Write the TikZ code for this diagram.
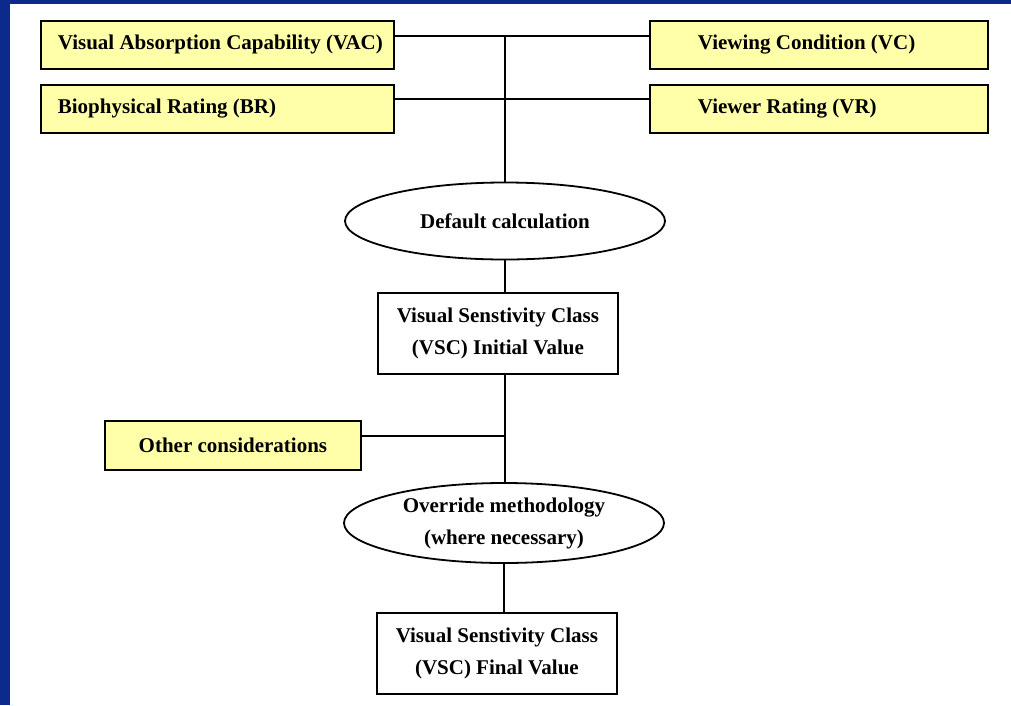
\documentclass[tikz,border=0pt]{standalone}
\usepackage{fontspec}
\setmainfont{Liberation Serif}
\usetikzlibrary{shapes.geometric, calc}
\definecolor{slideblue}{RGB}{12,42,140}
\definecolor{boxyellow}{RGB}{255,255,170}

\begin{document}
\begin{tikzpicture}[x=1pt, y=-1pt,
  font=\fontsize{21}{32}\selectfont\bfseries,
  ybox/.style={draw, line width=1.8pt, fill=boxyellow, anchor=north west, inner sep=0pt, minimum height=48pt},
  wbox/.style={draw, line width=1.8pt, fill=white, anchor=north west, align=center, inner sep=0pt, minimum width=240pt, minimum height=81pt},
  oval/.style={draw, line width=1.8pt, fill=white, ellipse, inner sep=0pt, minimum width=320pt, align=center},
  link/.style={line width=1.8pt}]
  \useasboundingbox (0,0) rectangle (1011,705);
  % Slide background
  \fill[white] (0,0) rectangle (1011,705);
  \fill[slideblue] (0,0) rectangle (10,705);
  \fill[slideblue] (0,0) rectangle (1011,4);
  % Input boxes
  \node[ybox, minimum width=353pt] (vac) at (40,20) {\makebox[319pt][l]{Visual Absorption Capability (VAC)}};
  \node[ybox, minimum width=353pt] (br) at (40,84) {\makebox[319pt][l]{Biophysical Rating (BR)}};
  \node[ybox, minimum width=338pt] (vc) at (649,20) {\makebox[242pt][l]{Viewing Condition (VC)}};
  \node[ybox, minimum width=338pt] (vr) at (649,84) {\makebox[242pt][l]{Viewer Rating (VR)}};
  % Main chain
  \node[oval, minimum height=77pt] (dc) at (505,221) {Default calculation};
  \node[wbox] (init) at (377,292) {Visual Senstivity Class\\(VSC) Initial Value};
  \node[ybox, minimum width=256pt, minimum height=49pt, align=center] (oc) at (104,420) {Other considerations};
  \node[oval, minimum height=80pt] (ov) at (504,523) {Override methodology\\(where necessary)};
  \node[wbox] (fin) at (376,612) {Visual Senstivity Class\\(VSC) Final Value};
  % Junctions on the trunk
  \coordinate (j1) at (505,36);
  \coordinate (j2) at (505,99);
  \coordinate (j3) at (505,436);
  % Connectors
  \draw[link] (j1 -| vac.east) -- (j1 -| vc.west);
  \draw[link] (j2 -| br.east) -- (j2 -| vr.west);
  \draw[link] (j1) -- (dc.north);
  \draw[link] (dc.south) -- (dc.south |- init.north);
  \draw[link] (init.south -| j1) -- (ov.north -| j1);
  \draw[link] (j3 -| oc.east) -- (j3);
  \draw[link] (ov.south) -- (ov.south |- fin.north);
\end{tikzpicture}
\end{document}
